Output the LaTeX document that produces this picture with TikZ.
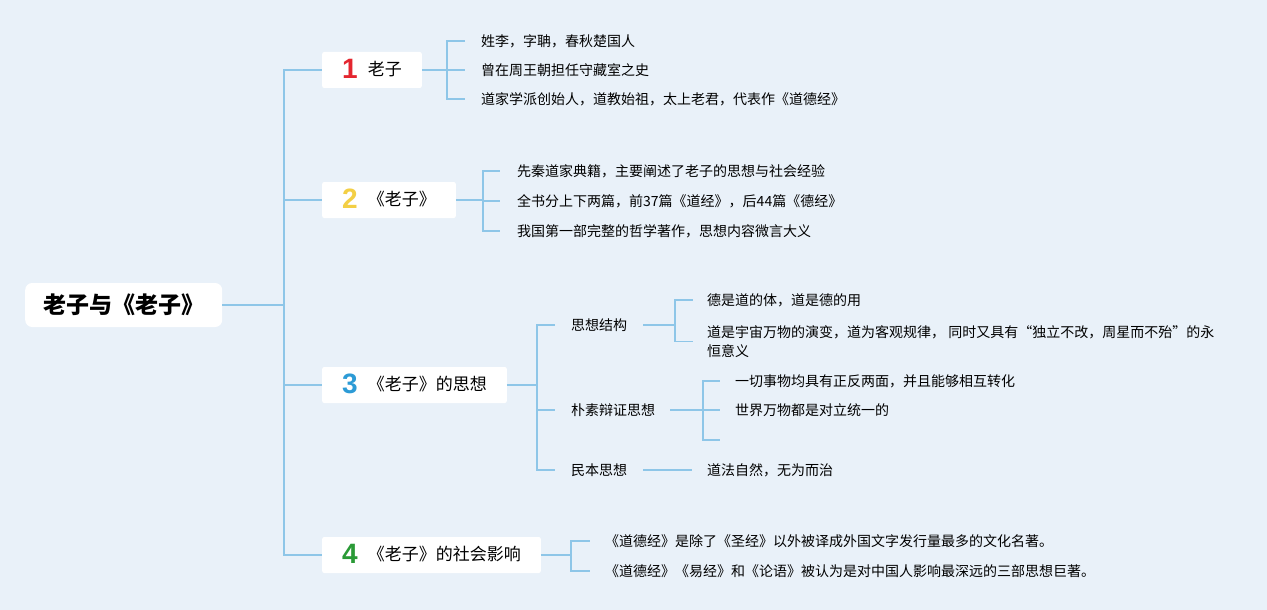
\documentclass[tikz,border=0pt]{standalone}
\usepackage{fontspec}
\setmainfont{Noto Sans CJK SC}
\newfontfamily\digitfont{Liberation Sans}
\usetikzlibrary{calc}
\definecolor{bg}{HTML}{E9F1F9}
\definecolor{ln}{HTML}{8EC6E8}
\definecolor{cone}{HTML}{E4262F}
\definecolor{ctwo}{HTML}{F3CF45}
\definecolor{cthree}{HTML}{2C9BD6}
\definecolor{cfour}{HTML}{2A9A36}
\newcommand\mybadge[2]{\raisebox{-3.5pt}{\smash{\digitfont\bfseries\fontsize{28}{28}\selectfont\color{#1}#2}}\hspace{10pt}}
\tikzset{
 conn/.style={draw=ln, line width=1.4pt},
 rootbox/.style={fill=white, rounded corners=7pt, minimum width=197pt, minimum height=44pt, font=\bfseries\fontsize{23}{27}\selectfont, anchor=west},
 branchbox/.style={fill=white, rounded corners=2pt, minimum height=36pt, inner xsep=20pt, font=\fontsize{17}{20}\selectfont, anchor=west},
 leaf/.style={inner sep=0pt, anchor=west, font=\fontsize{14}{19}\selectfont, align=left},
 subnode/.style={inner sep=0pt, anchor=west, font=\fontsize{14}{19}\selectfont},
}
\begin{document}
\begin{tikzpicture}[x=1pt,y=-1pt]
\fill[bg] (0,0) rectangle (1267,610);
\useasboundingbox (0,0) rectangle (1267,610);

% root and branches
\node[rootbox] (root) at (25,305) {老子与《老子》};
\node[branchbox] (b1) at (322,70) {\mybadge{cone}{1}老子};
\node[branchbox] (b2) at (322,200) {\mybadge{ctwo}{2}《老子》};
\node[branchbox] (b3) at (322,385) {\mybadge{cthree}{3}《老子》的思想};
\node[branchbox] (b4) at (322,555) {\mybadge{cfour}{4}《老子》的社会影响};

\coordinate (J0) at (284,305);
\draw[conn] (root.east) -- (J0);
\foreach \b in {b1,b2,b3,b4} \draw[conn] (J0) |- (\b.west);

% group 1
\node[leaf] (l11) at (481,41) {姓李，字聃，春秋楚国人};
\node[leaf] (l12) at (481,70) {曾在周王朝担任守藏室之史};
\node[leaf] (l13) at (481,99) {道家学派创始人，道教始祖，太上老君，代表作《道德经》};
\coordinate (J1) at (447,70);
\draw[conn] (b1.east) -- (J1);
\foreach \l in {l11,l12,l13} \draw[conn] (J1) |- ([xshift=-16pt]\l.west);

% group 2
\node[leaf] (l21) at (517,171) {先秦道家典籍，主要阐述了老子的思想与社会经验};
\node[leaf] (l22) at (517,201) {全书分上下两篇，前37篇《道经》，后44篇《德经》};
\node[leaf] (l23) at (517,231) {我国第一部完整的哲学著作，思想内容微言大义};
\coordinate (J2) at (483,200);
\draw[conn] (b2.east) -- (J2);
\foreach \l in {l21,l22,l23} \draw[conn] (J2) |- ([xshift=-17pt]\l.west);

% group 3
\node[subnode] (s1) at (571,325) {思想结构};
\node[subnode] (s2) at (571,410) {朴素辩证思想};
\node[subnode] (s3) at (571,470) {民本思想};
\coordinate (J3) at (537,385);
\draw[conn] (b3.east) -- (J3);
\foreach \s in {s1,s2,s3} \draw[conn] (J3) |- ([xshift=-16pt]\s.west);

\node[leaf] (l311) at (707,300) {德是道的体，道是德的用};
\node[leaf] (l312) at (707,341.5) {道是宇宙万物的演变，道为客观规律， 同时又具有“独立不改，周星而不殆”的永\\恒意义};
\coordinate (J31) at (675,325);
\draw[conn] ([xshift=16pt]s1.east) -- (J31);
\foreach \l in {l311,l312} \draw[conn] (J31) |- ([xshift=-14pt]\l.west);

\node[leaf] (l321) at (735,381) {一切事物均具有正反两面，并且能够相互转化};
\node[leaf] (l322) at (735,410) {世界万物都是对立统一的};
\coordinate (e323) at (720,440);
\coordinate (J32) at (703,410);
\draw[conn] ([xshift=15pt]s2.east) -- (J32);
\foreach \l in {l321,l322} \draw[conn] (J32) |- ([xshift=-15pt]\l.west);
\draw[conn] (J32) |- (e323);

\node[leaf] (l331) at (707,470) {道法自然，无为而治};
\draw[conn] ([xshift=16pt]s3.east) -- ([xshift=-15pt]l331.west);

% group 4
\node[leaf] (l41) at (605,541) {《道德经》是除了《圣经》以外被译成外国文字发行量最多的文化名著。};
\node[leaf] (l42) at (605,571) {《道德经》《易经》和《论语》被认为是对中国人影响最深远的三部思想巨著。};
\coordinate (J4) at (571,555);
\draw[conn] (b4.east) -- (J4);
\foreach \l in {l41,l42} \draw[conn] (J4) |- ([xshift=-15pt]\l.west);
\end{tikzpicture}
\end{document}
